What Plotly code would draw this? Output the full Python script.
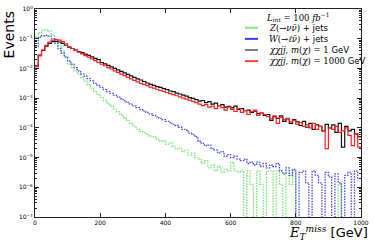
import plotly.graph_objects as go

# ---------------- data (log10 of events per 10 GeV bin, None = empty bin) ----------------
bin_edges = list(range(0, 1001, 10))

z_nunu_log = [
    -0.95, -0.80, -0.72, -0.70, -0.74, -0.86, -1.02, -1.22, -1.42, -1.60,
    -1.86, -1.97, -2.08, -2.19, -2.31, -2.43, -2.55, -2.66, -2.78, -2.88,
    -2.98, -3.08, -3.18, -3.27, -3.37, -3.46, -3.55, -3.66, -3.75, -3.85,
    -3.95, -4.04, -4.12, -4.15, -4.22, -4.28, -4.30, -4.38, -4.45, -4.42,
    -4.55, -4.50, -4.62, -4.70, -4.68, -4.80, -4.75, -4.92, -4.85, -5.00,
    -5.05, -5.20, -5.10, -5.35, -5.25, -5.45, -5.30, -5.50, -5.40, -5.45,
    -5.15, -5.45, -5.50, -5.45, None, -5.45, -5.90, None, -5.45, -5.90,
    None, -5.45, -5.45, None, -5.45, -5.90, None, -5.45, -5.90, -5.45,
    None, None, None, None, None, None, None, None, None, None,
    None, None, None, -5.90, None, None, None, None, None, None,
]

w_lnu_log = [
    -1.25, -0.95, -0.90, -0.89, -0.91, -1.00, -1.15, -1.33, -1.48, -1.62,
    -1.75, -1.86, -1.97, -2.08, -2.18, -2.26, -2.34, -2.42, -2.50, -2.57,
    -2.64, -2.71, -2.78, -2.84, -2.90, -2.96, -3.02, -3.08, -3.14, -3.20,
    -3.26, -3.32, -3.38, -3.43, -3.48, -3.53, -3.58, -3.63, -3.68, -3.72,
    -3.78, -3.82, -3.88, -3.92, -3.98, -4.05, -4.08, -4.18, -4.22, -4.30,
    -4.45, -4.52, -4.60, -4.58, -4.70, -4.75, -4.85, -4.80, -4.95, -4.90,
    -5.00, -4.95, -5.05, -5.10, -5.05, -5.20, -5.15, -5.25, -5.15, -5.30,
    -5.20, -5.35, -5.25, -5.30, -5.20, -5.45, -5.55, -5.35, -5.60, -5.40,
    None, -5.50, -5.45, -5.85, None, -5.45, -5.60, -5.85, None, -5.50,
    -5.65, None, -5.55, -5.85, None, -5.60, -5.50, None, -5.45, -5.70,
]

chi_m1_log = [
    -1.91, -1.55, -1.39, -1.25, -1.16, -1.10, -1.09, -1.11, -1.16, -1.22,
    -1.28, -1.33, -1.38, -1.43, -1.47, -1.52, -1.56, -1.61, -1.66, -1.70,
    -1.80, -1.85, -1.90, -1.95, -2.00, -2.05, -2.10, -2.15, -2.20, -2.25,
    -2.30, -2.35, -2.39, -2.44, -2.49, -2.54, -2.57, -2.61, -2.64, -2.68,
    -2.71, -2.76, -2.78, -2.83, -2.86, -2.90, -2.93, -2.98, -3.01, -3.05,
    -3.10, -3.08, -3.15, -3.12, -3.20, -3.17, -3.25, -3.22, -3.30, -3.28,
    -3.33, -3.27, -3.38, -3.35, -3.42, -3.40, -3.48, -3.44, -3.52, -3.50,
    -3.58, -3.55, -3.75, -3.62, -3.68, -3.60, -3.78, -3.70, -3.85, -3.72,
    -3.80, -3.92, -3.78, -3.98, -3.85, -4.05, -3.90, -3.95, -4.10, -3.88,
    -4.00, -3.90, -4.15, -3.85, -4.65, -3.95, -4.10, -4.05, -4.20, -4.30,
]

chi_m1000_log = [
    -1.95, -1.58, -1.38, -1.22, -1.11, -1.05, -1.03, -1.05, -1.10, -1.17,
    -1.27, -1.33, -1.39, -1.45, -1.51, -1.57, -1.62, -1.68, -1.74, -1.80,
    -1.86, -1.91, -1.97, -2.02, -2.08, -2.13, -2.19, -2.24, -2.29, -2.35,
    -2.40, -2.45, -2.50, -2.54, -2.58, -2.63, -2.66, -2.70, -2.74, -2.77,
    -2.81, -2.85, -2.88, -2.92, -2.96, -3.00, -3.03, -3.07, -3.11, -3.15,
    -3.20, -3.25, -3.22, -3.30, -3.27, -3.35, -3.25, -3.32, -3.40, -3.30,
    -3.38, -3.45, -3.35, -3.48, -3.42, -3.55, -3.45, -3.40, -3.58, -3.50,
    -3.55, -3.62, -3.70, -3.60, -3.85, -3.65, -3.72, -3.68, -3.80, -3.75,
    -3.88, -3.82, -3.95, -3.90, -4.00, -3.85, -4.05, -3.95, -4.10, -4.70,
    -4.00, -4.05, -3.95, -4.15, -4.10, -4.00, -4.25, -4.60, -4.20, -4.65,
]

series_names = [
    "<i>Z</i>(→<i>νν̄</i>) + <span style='font-family:DejaVu Sans'>jets</span>",
    "<i>W</i>(→<i>ℓν̄</i>) + <span style='font-family:DejaVu Sans'>jets</span>",
    "<i>χχjj</i>, <i>m</i>(<i>χ</i>) = 1 <span style='font-family:DejaVu Sans'>GeV</span>",
    "<i>χχjj</i>, <i>m</i>(<i>χ</i>) = 1000 <span style='font-family:DejaVu Sans'>GeV</span>",
]
legend_title = "<i>L<sub>int</sub></i> = 100 <i>fb</i><sup>−1</sup>"

y_tick_exponents = [0, -1, -2, -3, -4, -5, -6, -7]
x_tick_values = [0, 200, 400, 600, 800, 1000]

# ---------------- styles ----------------
line_colors = ["#74e874", "#4a4af0", "#111111", "#ff2020"]
key_colors = ["#7fe87f", "#3a3aee", "#808080", "#ff4040"]
line_dash = ["1.5px,1.2px", "1.5px,1.2px", "solid", "solid"]
line_width = [1.3, 1.3, 1.2, 1.2]
FLOOR = 1e-9  # empty bins drawn below the axis


def to_values(logs):
    vals = [10 ** v if v is not None else FLOOR for v in logs]
    return vals + [vals[-1]]


fig = go.Figure()
for logs, col, dash, w in zip(
    [z_nunu_log, w_lnu_log, chi_m1_log, chi_m1000_log], line_colors, line_dash, line_width
):
    fig.add_trace(
        go.Scatter(
            x=bin_edges,
            y=to_values(logs),
            mode="lines",
            line=dict(color=col, width=w, dash=dash, shape="hv"),
            showlegend=False,
            hoverinfo="skip",
        )
    )

# ---------------- manual legend (matplotlib-like compact layout) ----------------
key_x0, key_x1, text_x = 0.644, 0.684, 0.712
row_top, row_step = 0.910, 0.0535
annotations = [
    dict(
        text=legend_title, xref="paper", yref="paper", x=0.807, y=0.962,
        xanchor="center", yanchor="middle", showarrow=False,
        font=dict(family="DejaVu Serif", size=8.5, color="black"),
    )
]
shapes = []
for i, (name, kc) in enumerate(zip(series_names, key_colors)):
    yy = row_top - i * row_step
    shapes.append(
        dict(type="line", xref="paper", yref="paper", x0=key_x0, x1=key_x1, y0=yy, y1=yy,
             line=dict(color=kc, width=2))
    )
    annotations.append(
        dict(text=name, xref="paper", yref="paper", x=text_x, y=yy,
             xanchor="left", yanchor="middle", showarrow=False,
             font=dict(family="DejaVu Serif", size=8.5, color="black"))
    )

# axis titles
annotations.append(
    dict(text="Events", xref="paper", yref="paper", x=-0.08, y=1.0, textangle=-90,
         xanchor="center", yanchor="top", showarrow=False,
         font=dict(family="DejaVu Sans", size=14, color="black"))
)
annotations.append(
    dict(text="<i>E</i><sub><i>T</i></sub><sup><i>miss</i></sup> <span style='font-family:DejaVu Sans'>[GeV]</span>",
         xref="paper", yref="paper", x=1.027, y=-0.076,
         xanchor="right", yanchor="middle", showarrow=False,
         font=dict(family="DejaVu Serif", size=13, color="black"))
)

fig.update_layout(
    width=374, height=242,
    margin=dict(l=35, r=13, t=5, b=25),
    paper_bgcolor="white", plot_bgcolor="white",
    showlegend=False,
    annotations=annotations,
    shapes=shapes,
    font=dict(family="DejaVu Sans", size=6, color="black"),
)
fig.update_xaxes(
    range=[0, 1000], tickvals=x_tick_values, ticktext=[str(v) for v in x_tick_values],
    showgrid=False, zeroline=False, showline=True, linecolor="#222", linewidth=1, mirror="ticks",
    ticks="inside", ticklen=4, tickcolor="#222", tickfont=dict(size=6),
)
fig.update_yaxes(
    type="log", range=[-7, 0],
    tickvals=[10 ** e for e in y_tick_exponents],
    ticktext=["10<sup>%s</sup>" % (str(e).replace("-", "−")) for e in y_tick_exponents],
    showgrid=False, zeroline=False, showline=True, linecolor="#222", linewidth=1, mirror="ticks",
    ticks="inside", ticklen=4, tickcolor="#222", tickfont=dict(size=6),
    minor=dict(ticks="inside", ticklen=2, tickcolor="#222", dtick="D1", showgrid=False),
)

fig.write_html("out.html", config={"displayModeBar": False},
               post_script="document.body.style.margin='0';")
